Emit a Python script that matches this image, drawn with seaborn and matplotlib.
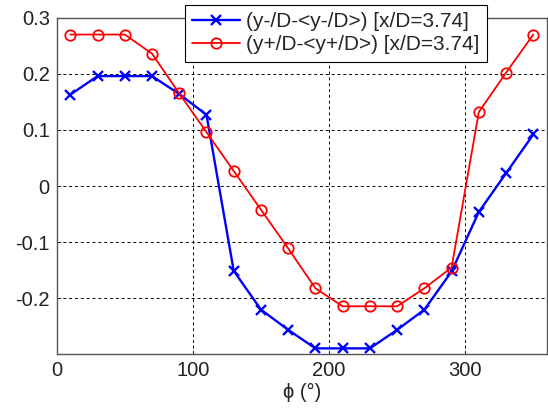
import matplotlib
matplotlib.use("Agg")
import matplotlib.pyplot as plt
import seaborn as sns
import pandas as pd

phi = [10, 30, 50, 70, 90, 110, 130, 150, 170, 190, 210, 230, 250, 270, 290, 310, 330, 350]
y_minus = [0.163, 0.196, 0.196, 0.196, 0.164, 0.127, -0.151, -0.220, -0.256, -0.289,
           -0.289, -0.289, -0.256, -0.220, -0.152, -0.046, 0.023, 0.092]
y_plus = [0.270, 0.270, 0.270, 0.236, 0.165, 0.096, 0.027, -0.042, -0.111, -0.182,
          -0.214, -0.214, -0.214, -0.182, -0.145, 0.132, 0.202, 0.270]
label_minus = "(y-/D-<y-/D>) [x/D=3.74]"
label_plus = "(y+/D-<y+/D>) [x/D=3.74]"
xticks = [0, 100, 200, 300]
yticks = [-0.2, -0.1, 0, 0.1, 0.2, 0.3]
ytick_labels = ["-0.2", "-0.1", "0", "0.1", "0.2", "0.3"]

sns.set_theme(style="white")
plt.rcParams['font.family'] = ['Liberation Sans', 'DejaVu Sans']

df = pd.DataFrame({"phi": phi, "ym": y_minus, "yp": y_plus})

fig = plt.figure(figsize=(5.48, 4.09), dpi=100)
ax = fig.add_axes([0.1035, 0.1345, 0.8945, 0.8222])

sns.lineplot(data=df, x="phi", y="ym", ax=ax, color="#0000ff", marker="x",
             markersize=6.5, markeredgewidth=1.7, markeredgecolor="#0000ff",
             linewidth=1.7, label=label_minus, sort=False, estimator=None)
sns.lineplot(data=df, x="phi", y="yp", ax=ax, color="#ff0000", marker="o",
             markersize=7.5, markerfacecolor="none", markeredgecolor="#ff0000",
             markeredgewidth=1.3, linewidth=1.3, label=label_plus,
             sort=False, estimator=None)

ax.set_xlim(0, 360)
ax.set_ylim(-0.299, 0.3)
ax.set_xticks(xticks)
ax.set_xticklabels([str(t) for t in xticks])
ax.set_yticks(yticks)
ax.set_yticklabels(ytick_labels)
ax.tick_params(axis="both", labelsize=14.5, colors="#222222", direction="in",
               length=3, width=0.6, pad=5, left=True, bottom=True)
ax.grid(True, color="black", linestyle=(0, (3, 3)), linewidth=0.7)
for s in ax.spines.values():
    s.set_color("#555555")
    s.set_linewidth(1.0)

ax.set_xlabel("ϕ (°)", fontsize=14.5, color="#222222", labelpad=2)
ax.set_ylabel("")

leg = ax.legend(loc="upper left", bbox_to_anchor=(0.2617, 1.0378), borderaxespad=0,
                fontsize=15, frameon=True, fancybox=False, edgecolor="black",
                framealpha=1, handlelength=2.3, handletextpad=0.3,
                borderpad=0.35, labelspacing=0.2)
leg.get_frame().set_linewidth(0.8)

fig.savefig("out.png", dpi=100)
